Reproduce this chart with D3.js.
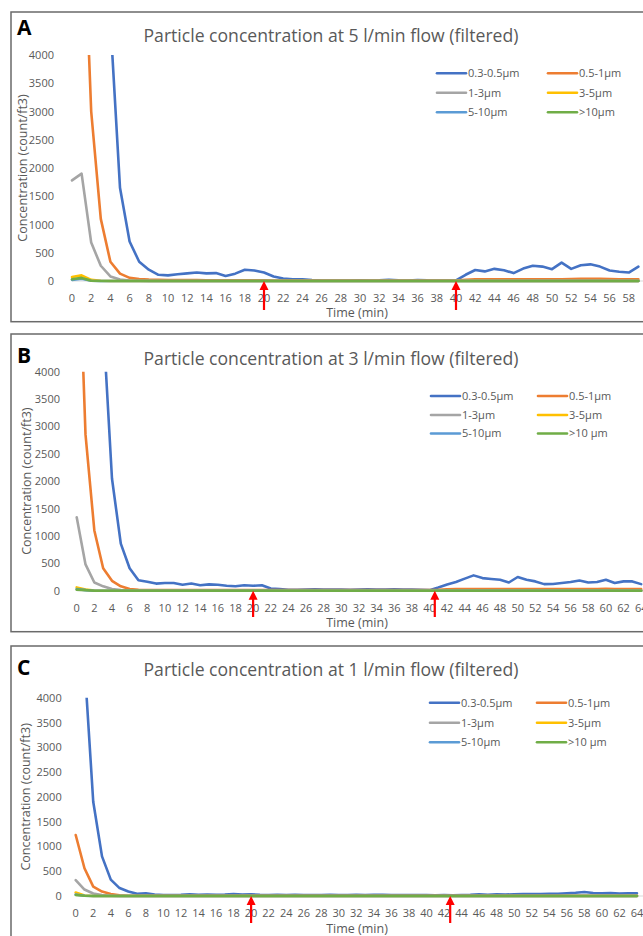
<!DOCTYPE html>
<html lang="en">
<head>
<meta charset="UTF-8">
<title>Particle concentration (filtered)</title>
<script src="https://cdnjs.cloudflare.com/ajax/libs/d3/7.8.5/d3.min.js"></script>
<style>
    body { margin: 0; background: #fff; }
    svg { display: block; }
    text { font-family: "Open Sans", sans-serif; }
</style>
</head>
<body>
<div id="chart"></div>
<script>
    // series names / colours (Excel default palette)
    const namesA = ["0.3-0.5μm", "0.5-1μm", "1-3μm", "3-5μm", "5-10μm", ">10μm"];
    const namesBC = ["0.3-0.5μm", "0.5-1μm", "1-3μm", "3-5μm", "5-10μm", ">10 μm"];
    const colors = ["#4472C4", "#ED7D31", "#A5A5A5", "#FFC000", "#5B9BD5", "#70AD47"];
    const yTicks = [0, 500, 1000, 1500, 2000, 2500, 3000, 3500, 4000];

    // time (min) where the red arrows sit
    const arrowsA = [20, 40];
    const arrowsB = [20, 40.6];
    const arrowsC = [20, 42.7];

    // ---- 5 l/min, minutes 0..59
    const blueA = [12000, 11000, 9000, 6500, 4600, 1650, 700, 340, 200, 110,
        100, 120, 135, 150, 135, 140, 90, 130, 200, 185,
        150, 80, 45, 30, 30, 15, 10, 10, 10, 10,
        12, 10, 12, 20, 12, 10, 18, 12, 10, 8,
        10, 110, 195, 170, 215, 190, 140, 220, 270, 255,
        210, 325, 215, 280, 295, 255, 185, 165, 150, 255];
    const orangeA = [9000, 7400, 3000, 1100, 340, 130, 55, 35, 25, 20,
        15, 15, 15, 15, 12, 12, 12, 12, 12, 12,
        12, 10, 10, 10, 10, 10, 10, 10, 10, 10,
        10, 10, 10, 10, 10, 10, 10, 10, 10, 10,
        10, 20, 28, 30, 28, 30, 30, 28, 30, 32,
        30, 32, 35, 40, 40, 38, 35, 32, 30, 30];
    const grayA = [1780, 1900, 680, 270, 80, 25, 10, 5, 2, 0,
        0, 0, 0, 0, 0, 0, 0, 0, 0, 0,
        0, 0, 0, 0, 0, 0, 0, 0, 0, 0,
        0, 0, 0, 0, 0, 0, 0, 0, 0, 0,
        0, 2, 3, 3, 3, 3, 3, 3, 3, 3,
        3, 3, 3, 3, 3, 3, 3, 3, 3, 3];
    const yellowA = [70, 100, 20, 5, 0, 0, 0, 0, 0, 0,
        0, 0, 0, 0, 0, 0, 0, 0, 0, 0,
        0, 0, 0, 0, 0, 0, 0, 0, 0, 0,
        0, 0, 0, 0, 0, 0, 0, 0, 0, 0,
        0, 0, 0, 0, 0, 0, 0, 0, 0, 0,
        0, 0, 0, 0, 0, 0, 0, 0, 0, 0];
    const lightA = [20, 40, 5, 0, 0, 0, 0, 0, 0, 0,
        0, 0, 0, 0, 0, 0, 0, 0, 0, 0,
        0, 0, 0, 0, 0, 0, 0, 0, 0, 0,
        0, 0, 0, 0, 0, 0, 0, 0, 0, 0,
        0, 0, 0, 0, 0, 0, 0, 0, 0, 0,
        0, 0, 0, 0, 0, 0, 0, 0, 0, 0];
    const greenA = [30, 55, 5, 0, 0, 0, 0, 0, 0, 0,
        0, 0, 0, 0, 0, 0, 0, 0, 0, 0,
        0, 0, 0, 0, 0, 0, 0, 0, 0, 0,
        0, 0, 0, 0, 0, 0, 0, 0, 0, 0,
        0, 0, 0, 0, 0, 0, 0, 0, 0, 0,
        0, 0, 0, 0, 0, 0, 0, 0, 0, 0];

    // ---- 3 l/min, minutes 0..64
    const blueB = [12000, 10000, 7000, 4900, 2050, 860, 410, 190, 165, 130,
        140, 140, 110, 130, 100, 115, 110, 90, 80, 100,
        90, 100, 40, 30, 15, 15, 20, 25, 20, 20,
        20, 18, 20, 25, 22, 20, 25, 20, 22, 15,
        10, 60, 115, 160, 220, 280, 230, 215, 200, 150,
        250, 200, 170, 120, 122, 140, 158, 185, 150, 160,
        200, 140, 170, 170, 120];
    const orangeB = [7450, 2850, 1100, 410, 180, 80, 30, 15, 10, 10,
        10, 10, 10, 10, 10, 10, 10, 10, 10, 10,
        10, 10, 10, 10, 10, 10, 10, 10, 10, 10,
        10, 10, 10, 10, 10, 10, 10, 10, 10, 10,
        10, 15, 25, 28, 30, 32, 30, 30, 28, 30,
        32, 30, 30, 28, 28, 30, 32, 30, 30, 32,
        35, 30, 30, 30, 28];
    const grayB = [1340, 480, 150, 80, 30, 10, 5, 0, 0, 0,
        0, 0, 0, 0, 0, 0, 0, 0, 0, 0,
        0, 0, 0, 0, 0, 0, 0, 0, 0, 0,
        0, 0, 0, 0, 0, 0, 0, 0, 0, 0,
        0, 0, 2, 3, 3, 3, 3, 3, 3, 3,
        3, 3, 3, 3, 3, 3, 3, 3, 3, 3,
        3, 3, 3, 3, 3];
    const yellowB = [60, 20, 5, 0, 0, 0, 0, 0, 0, 0,
        0, 0, 0, 0, 0, 0, 0, 0, 0, 0,
        0, 0, 0, 0, 0, 0, 0, 0, 0, 0,
        0, 0, 0, 0, 0, 0, 0, 0, 0, 0,
        0, 0, 0, 0, 0, 0, 0, 0, 0, 0,
        0, 0, 0, 0, 0, 0, 0, 0, 0, 0,
        0, 0, 0, 0, 0];
    const lightB = [30, 10, 0, 0, 0, 0, 0, 0, 0, 0,
        0, 0, 0, 0, 0, 0, 0, 0, 0, 0,
        0, 0, 0, 0, 0, 0, 0, 0, 0, 0,
        0, 0, 0, 0, 0, 0, 0, 0, 0, 0,
        0, 0, 0, 0, 0, 0, 0, 0, 0, 0,
        0, 0, 0, 0, 0, 0, 0, 0, 0, 0,
        0, 0, 0, 0, 0];
    const greenB = [20, 10, 0, 0, 0, 0, 0, 0, 0, 0,
        0, 0, 0, 0, 0, 0, 0, 0, 0, 0,
        0, 0, 0, 0, 0, 0, 0, 0, 0, 0,
        0, 0, 0, 0, 0, 0, 0, 0, 0, 0,
        0, 0, 0, 0, 0, 0, 0, 0, 0, 0,
        0, 0, 0, 0, 0, 0, 0, 0, 0, 0,
        0, 0, 0, 0, 0];

    // ---- 1 l/min, minutes 0..64
    const blueC = [8000, 4700, 1900, 800, 330, 160, 90, 45, 55, 30,
        20, 20, 25, 35, 25, 30, 25, 30, 40, 30,
        35, 25, 20, 25, 20, 25, 20, 18, 20, 22,
        20, 18, 22, 20, 25, 22, 18, 20, 18, 20,
        18, 15, 18, 15, 20, 25, 35, 25, 35, 30,
        35, 40, 40, 40, 45, 45, 55, 65, 80, 60,
        55, 60, 50, 55, 55];
    const orangeC = [1230, 560, 190, 90, 40, 15, 5, 5, 5, 5,
        5, 5, 5, 5, 5, 5, 5, 5, 5, 5,
        5, 5, 5, 5, 5, 5, 5, 5, 5, 5,
        5, 5, 5, 5, 5, 5, 5, 5, 5, 5,
        5, 5, 5, 5, 5, 5, 5, 5, 5, 5,
        5, 5, 5, 5, 5, 5, 5, 5, 5, 5,
        5, 5, 5, 5, 5];
    const grayC = [320, 130, 50, 20, 5, 0, 0, 0, 0, 0,
        0, 0, 0, 0, 0, 0, 0, 0, 0, 0,
        0, 0, 0, 0, 0, 0, 0, 0, 0, 0,
        0, 0, 0, 0, 0, 0, 0, 0, 0, 0,
        0, 0, 0, 0, 0, 0, 0, 0, 0, 0,
        0, 0, 0, 0, 0, 0, 0, 0, 0, 0,
        0, 0, 0, 0, 0];
    const yellowC = [70, 10, 0, 0, 0, 0, 0, 0, 0, 0,
        0, 0, 0, 0, 0, 0, 0, 0, 0, 0,
        0, 0, 0, 0, 0, 0, 0, 0, 0, 0,
        0, 0, 0, 0, 0, 0, 0, 0, 0, 0,
        0, 0, 0, 0, 0, 0, 0, 0, 0, 0,
        0, 0, 0, 0, 0, 0, 0, 0, 0, 0,
        0, 0, 0, 0, 0];
    const lightC = [30, 5, 0, 0, 0, 0, 0, 0, 0, 0,
        0, 0, 0, 0, 0, 0, 0, 0, 0, 0,
        0, 0, 0, 0, 0, 0, 0, 0, 0, 0,
        0, 0, 0, 0, 0, 0, 0, 0, 0, 0,
        0, 0, 0, 0, 0, 0, 0, 0, 0, 0,
        0, 0, 0, 0, 0, 0, 0, 0, 0, 0,
        0, 0, 0, 0, 0];
    const greenC = [20, 5, 0, 0, 0, 0, 0, 0, 0, 0,
        0, 0, 0, 0, 0, 0, 0, 0, 0, 0,
        0, 0, 0, 0, 0, 0, 0, 0, 0, 0,
        0, 0, 0, 0, 0, 0, 0, 0, 0, 0,
        0, 0, 0, 0, 0, 0, 0, 0, 0, 0,
        0, 0, 0, 0, 0, 0, 0, 0, 0, 0,
        0, 0, 0, 0, 0];

    const width = 643;
    const height = 936;
    const textColor = "#595959";

    // the three panels are screenshots at slightly different scales
    const panels = [
        {
            letter: "A", title: "Particle concentration at 5 l/min flow (filtered)",
            names: namesA, series: [blueA, orangeA, grayA, yellowA, lightA, greenA],
            arrows: arrowsA, tickMax: 58,
            boxTop: 12, boxBottom: 321.7,
            x0: 72, perMin: 9.6, yTop: 55, yBase: 281,
            yLabelRight: 54, titleY: 41.7, letterY: 35,
            xTickY: 302, xTitleY: 317, yTitleX: 22,
            legRows: [73.3, 92.7, 112.3], legCols: [437, 548], arrowBottom: 310
        },
        {
            letter: "B", title: "Particle concentration at 3 l/min flow (filtered)",
            names: namesBC, series: [blueB, orangeB, grayB, yellowB, lightB, greenB],
            arrows: arrowsB, tickMax: 64,
            boxTop: 334, boxBottom: 631.7,
            x0: 76.7, perMin: 8.82, yTop: 371.7, yBase: 590.7,
            yLabelRight: 60, titleY: 365, letterY: 363,
            xTickY: 611.5, xTitleY: 627, yTitleX: 26.7,
            legRows: [396, 415, 433.5], legCols: [431, 538], arrowBottom: 617
        },
        {
            letter: "C", title: "Particle concentration at 1 l/min flow (filtered)",
            names: namesBC, series: [blueC, orangeC, grayC, yellowC, lightC, greenC],
            arrows: arrowsC, tickMax: 64,
            boxTop: 646, boxBottom: 960,
            x0: 75.7, perMin: 8.77, yTop: 697.7, yBase: 896,
            yLabelRight: 61.7, titleY: 676, letterY: 675,
            xTickY: 917, xTitleY: 933, yTitleX: 25,
            legRows: [702.7, 722.7, 742.3], legCols: [430, 537], arrowBottom: 923
        }
    ];

    const svg = d3.select("#chart")
        .append("svg")
        .attr("width", width)
        .attr("height", height);

    panels.forEach((p, pi) => {
        const g = svg.append("g");

        // panel frame (right side runs off the picture)
        g.append("rect")
            .attr("x", 11)
            .attr("y", p.boxTop)
            .attr("width", 700)
            .attr("height", p.boxBottom - p.boxTop)
            .attr("fill", "none")
            .attr("stroke", "#6a6a6a")
            .attr("stroke-width", 1.5);

        const x = d3.scaleLinear()
            .domain([0, p.tickMax])
            .range([p.x0, p.x0 + p.tickMax * p.perMin]);
        const y = d3.scaleLinear()
            .domain([0, 4000])
            .range([p.yBase, p.yTop]);

        // panel letter
        g.append("text")
            .attr("x", 17)
            .attr("y", p.letterY)
            .attr("font-family", "Liberation Sans, Arial, sans-serif")
            .attr("font-weight", "bold")
            .attr("font-size", 21)
            .attr("fill", "#000")
            .text(p.letter);

        // chart title
        g.append("text")
            .attr("x", 331)
            .attr("y", p.titleY)
            .attr("text-anchor", "middle")
            .attr("font-size", 17.6)
            .attr("fill", textColor)
            .text(p.title);

        // y axis labels
        const yAxis = d3.axisLeft(y).tickValues(yTicks).tickFormat(d3.format("d"))
            .tickSize(0).tickPadding(0);
        const ya = g.append("g")
            .attr("transform", `translate(${p.yLabelRight},0)`)
            .call(yAxis);
        ya.select(".domain").remove();
        ya.selectAll("text")
            .attr("font-family", "Open Sans, sans-serif")
            .attr("font-size", 11)
            .attr("fill", textColor);

        // x axis labels every 2 minutes
        const xTicks = d3.range(0, p.tickMax + 1, 2);
        g.append("g").selectAll("text")
            .data(xTicks)
            .join("text")
            .attr("x", d => x(d))
            .attr("y", p.xTickY)
            .attr("text-anchor", "middle")
            .attr("font-size", 11)
            .attr("fill", textColor)
            .text(d => d);

        // horizontal axis line
        g.append("line")
            .attr("x1", x(0)).attr("x2", width)
            .attr("y1", y(0)).attr("y2", y(0))
            .attr("stroke", "#d9d9d9")
            .attr("stroke-width", 1);

        // axis titles
        g.append("text")
            .attr("x", 357)
            .attr("y", p.xTitleY)
            .attr("text-anchor", "middle")
            .attr("font-size", 12.5)
            .attr("fill", textColor)
            .text("Time (min)");

        g.append("text")
            .attr("transform", `translate(${p.yTitleX},${(p.yTop + p.yBase) / 2}) rotate(-90)`)
            .attr("text-anchor", "middle")
            .attr("dominant-baseline", "central")
            .attr("font-size", 12.5)
            .attr("fill", textColor)
            .text("Concentration (count/ft3)");

        // lines, clipped at the 4000 ceiling like Excel
        const clipId = "clip" + pi;
        svg.append("clipPath").attr("id", clipId)
            .append("rect")
            .attr("x", p.x0 - 3)
            .attr("y", p.yTop)
            .attr("width", width)
            .attr("height", p.yBase - p.yTop + 4);

        const line = d3.line()
            .x((d, i) => x(i))
            .y(d => y(d));

        g.append("g")
            .attr("clip-path", `url(#${clipId})`)
            .selectAll("path")
            .data(p.series)
            .join("path")
            .attr("d", d => line(d))
            .attr("fill", "none")
            .attr("stroke", (d, i) => colors[i])
            .attr("stroke-width", 2.6)
            .attr("stroke-linejoin", "round")
            .attr("stroke-linecap", "round");

        // legend, two columns by three rows
        const leg = g.append("g");
        p.names.forEach((name, i) => {
            const cx = p.legCols[i % 2];
            const cy = p.legRows[Math.floor(i / 2)];
            leg.append("line")
                .attr("x1", cx).attr("x2", cx + 29)
                .attr("y1", cy).attr("y2", cy)
                .attr("stroke", colors[i])
                .attr("stroke-width", 2.6)
                .attr("stroke-linecap", "round");
            leg.append("text")
                .attr("x", cx + 31)
                .attr("y", cy)
                .attr("dy", "0.35em")
                .attr("font-size", 11)
                .attr("fill", textColor)
                .text(name);
        });

        // red arrows marking the filter changes
        p.arrows.forEach(t => {
            const ax = x(t);
            const tip = y(0);
            g.append("line")
                .attr("x1", ax).attr("x2", ax)
                .attr("y1", tip + 6).attr("y2", p.arrowBottom)
                .attr("stroke", "#ff0000")
                .attr("stroke-width", 2.2);
            g.append("path")
                .attr("d", `M${ax},${tip} L${ax - 4.5},${tip + 9} L${ax + 4.5},${tip + 9} Z`)
                .attr("fill", "#ff0000");
        });
    });
</script>
</body>
</html>
